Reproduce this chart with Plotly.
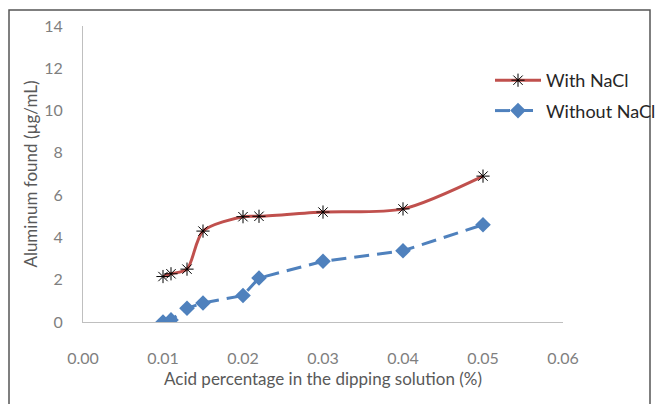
import plotly.graph_objects as go

acid = [0.010, 0.011, 0.013, 0.015, 0.020, 0.022, 0.030, 0.040, 0.050]
with_nacl = [2.15, 2.28, 2.5, 4.3, 4.98, 5.0, 5.2, 5.35, 6.9]
without_nacl = [0.0, 0.1, 0.65, 0.9, 1.25, 2.08, 2.87, 3.37, 4.6]
x_ticks = [0.00, 0.01, 0.02, 0.03, 0.04, 0.05, 0.06]
y_ticks = [0, 2, 4, 6, 8, 10, 12, 14]

RED = "#C0504D"
BLUE = "#4F81BD"
FONT = "Lato, 'Open Sans', sans-serif"

fig = go.Figure()
fig.add_trace(go.Scatter(
    x=acid, y=with_nacl, name="With NaCl", mode="lines+markers", legendgroup="a",
    line=dict(color=RED, width=3, shape="spline", smoothing=0.8),
    marker=dict(symbol="asterisk-open", size=11, color="black", line=dict(color="black", width=1)),
))
fig.add_trace(go.Scatter(
    x=acid, y=without_nacl, name="Without NaCl", mode="lines+markers", legendgroup="b",
    line=dict(color=BLUE, width=3, dash="15px,8px"),
    marker=dict(symbol="diamond", size=12, color=BLUE),
))

fig.update_layout(
    width=660, height=404,
    margin=dict(l=83, r=97, t=26, b=82, autoexpand=False),
    paper_bgcolor="white", plot_bgcolor="white",
    font=dict(family=FONT, size=16, color="#7F7F7F"),
    showlegend=True,
    legend=dict(xref="container", yref="container", x=490 / 660, y=1 - 62 / 404,
                xanchor="left", yanchor="top",
                font=dict(size=18, color="#262626"),
                bgcolor="rgba(0,0,0,0)", tracegroupgap=4, itemwidth=46),
    xaxis=dict(range=[0, 0.06], tickvals=x_ticks, tickformat=".2f",
               showgrid=False, zeroline=False, showline=True, linecolor="#BFBFBF", linewidth=1,
               ticks="", ticklabelstandoff=22,
               title=dict(text="Acid percentage in the dipping solution (%)", standoff=6,
                          font=dict(size=17, color="#595959"))),
    yaxis=dict(range=[0, 14], tickvals=y_ticks,
               showgrid=False, zeroline=False, showline=True, linecolor="#BFBFBF", linewidth=1,
               ticks="", ticklabelstandoff=16,
               title=dict(text="Aluminum found (µg/mL)", standoff=2,
                          font=dict(size=17, color="#595959"))),
    shapes=[dict(type="rect", xref="paper", yref="paper",
                 x0=(9 - 83) / 480, x1=(650 - 83) / 480,
                 y0=(322 - 420) / 296, y1=(322 - 10) / 296,
                 line=dict(color="#555555", width=1.5), fillcolor="rgba(0,0,0,0)", layer="below")],
)

fig.write_html("out.html")
